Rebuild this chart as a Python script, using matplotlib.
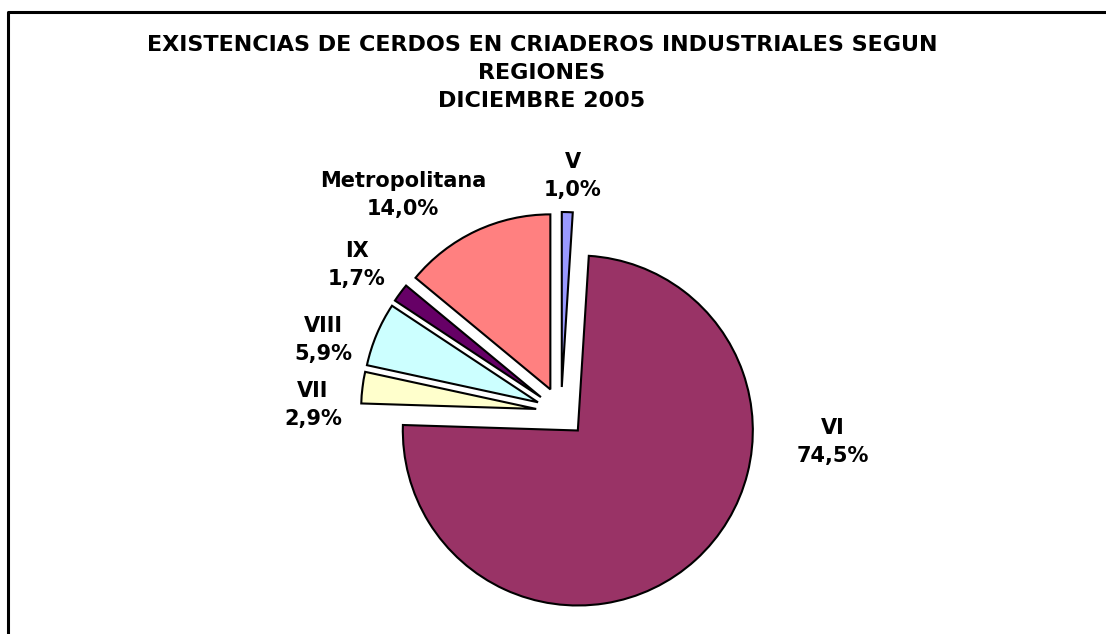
import matplotlib.pyplot as plt

# datos
regiones = ['V', 'VI', 'VII', 'VIII', 'IX', 'Metropolitana']
porcentajes = [1.0, 74.5, 2.9, 5.9, 1.7, 14.0]
colores = ['#9999FF', '#993366', '#FFFFCC', '#CCFFFF', '#660066', '#FF8080']

titulo = ('EXISTENCIAS DE CERDOS EN CRIADEROS INDUSTRIALES SEGUN\n'
          'REGIONES\n'
          'DICIEMBRE 2005')

# layout en pixeles (desde arriba)
W, H = 1106, 634
centro = (561, 412)
radio = 175
separacion = 25
pos_etiquetas = [(573, 176), (833, 442), (313, 405), (323, 340), (357, 265), (403, 195)]

fig = plt.figure(figsize=(W / 100, H / 100), dpi=100)
ax = fig.add_axes([0, 0, 1, 1])

ax.pie(porcentajes, colors=colores, startangle=90, counterclock=False,
       radius=radio, center=(centro[0], H - centro[1]),
       explode=[separacion] * len(porcentajes),
       wedgeprops=dict(edgecolor='black', linewidth=1.5))

for reg, pct, (px, py) in zip(regiones, porcentajes, pos_etiquetas):
    txt = reg + '\n' + ('%.1f%%' % pct).replace('.', ',')
    ax.text(px, H - py, txt, ha='center', va='center', fontsize=15,
            fontweight='bold', family='DejaVu Sans', linespacing=1.5)

ax.set_xlim(0, W)
ax.set_ylim(0, H)
ax.set_aspect('equal')
ax.axis('off')

# marco
ax.plot([7.5, 7.5, W + 10], [-10, H - 12, H - 12], color='black', lw=2.2,
        clip_on=False)

fig.text(542 / W, 1 - 73 / H, titulo, ha='center', va='center', fontsize=16,
         fontweight='bold', family='DejaVu Sans', linespacing=1.5)

fig.savefig('out.png', dpi=100)
